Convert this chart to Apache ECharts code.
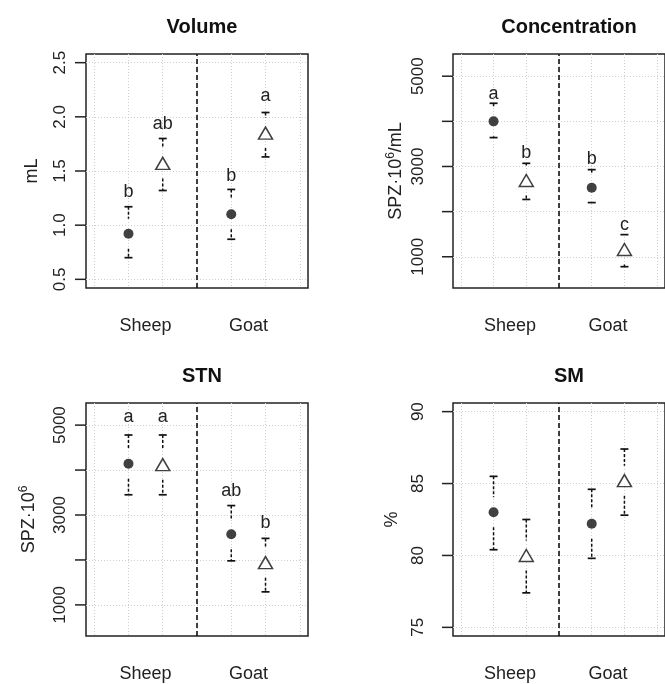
<!DOCTYPE html>
<html><head><meta charset="utf-8">
<script src="https://cdn.jsdelivr.net/npm/echarts@6/dist/echarts.min.js"></script>
<style>html,body{margin:0;padding:0;background:#fff}#c{width:665px;height:684px}</style>
</head><body><div id="c"></div>
<script>
// ---- data ----
const groups = ['Sheep', 'Goat'];
const groupPos = [1.5, 4.5];
const xPos = [1, 2, 4, 5]; // Sheep circle, Sheep triangle, Goat circle, Goat triangle
const gridLinesX = [0, 1, 2, 3, 4, 5, 6];
const separatorX = 3;

const volumeMean = [0.92, 1.57, 1.10, 1.85];
const volumeLow = [0.70, 1.32, 0.87, 1.63];
const volumeHigh = [1.17, 1.80, 1.33, 2.04];
const volumeLetters = ['b', 'ab', 'b', 'a'];
const volumeLetterY = [1.31, 1.93, 1.45, 2.19];
const volumeTicks = [0.5, 1.0, 1.5, 2.0, 2.5];
const volumeTickLabels = ['0.5', '1.0', '1.5', '2.0', '2.5'];

const concMean = [4000, 2690, 2530, 1160];
const concLow = [3640, 2270, 2200, 780];
const concHigh = [4400, 3070, 2930, 1490];
const concLetters = ['a', 'b', 'b', 'c'];
const concLetterY = [4610, 3300, 3170, 1700];
const concTicks = [1000, 2000, 3000, 4000, 5000];
const concTickLabels = ['1000', '', '3000', '', '5000'];

const stnMean = [4140, 4120, 2570, 1940];
const stnLow = [3450, 3450, 1980, 1290];
const stnHigh = [4780, 4780, 3210, 2480];
const stnLetters = ['a', 'a', 'ab', 'b'];
const stnLetterY = [5180, 5180, 3540, 2830];
const stnTicks = [1000, 2000, 3000, 4000, 5000];
const stnTickLabels = ['1000', '', '3000', '', '5000'];

const smMean = [83.0, 80.0, 82.2, 85.2];
const smLow = [80.4, 77.4, 79.8, 82.8];
const smHigh = [85.5, 82.5, 84.6, 87.4];
const smLetters = [];
const smLetterY = [];
const smTicks = [75, 80, 85, 90];
const smTickLabels = ['75', '80', '85', '90'];

// ---- layout ----
const FONT = 'Liberation Sans, Arial, sans-serif';
const TICK_LEN = 11;
const panels = [
  { title: 'Volume', name: 'mL', mean: volumeMean, low: volumeLow, high: volumeHigh,
    letters: volumeLetters, letterY: volumeLetterY, ticks: volumeTicks, tickLabels: volumeTickLabels,
    yMin: 0.42, yMax: 2.58, grid: { left: 86, top: 54, width: 222, height: 234 }, nameGap: 43, labelMargin: 17 },
  { title: 'Concentration', name: 'SPZ·10{sup|6}/mL', mean: concMean, low: concLow, high: concHigh,
    letters: concLetters, letterY: concLetterY, ticks: concTicks, tickLabels: concTickLabels,
    yMin: 308, yMax: 5492, grid: { left: 453, top: 54, width: 222, height: 234 }, nameGap: 46, labelMargin: 26 },
  { title: 'STN', name: 'SPZ·10{sup|6}', mean: stnMean, low: stnLow, high: stnHigh,
    letters: stnLetters, letterY: stnLetterY, ticks: stnTicks, tickLabels: stnTickLabels,
    yMin: 308, yMax: 5492, grid: { left: 86, top: 403, width: 222, height: 233 }, nameGap: 46, labelMargin: 17 },
  { title: 'SM', name: '%', mean: smMean, low: smLow, high: smHigh,
    letters: smLetters, letterY: smLetterY, ticks: smTicks, tickLabels: smTickLabels,
    yMin: 74.4, yMax: 90.6, grid: { left: 453, top: 403, width: 222, height: 233 }, nameGap: 50, labelMargin: 26 }
];

const option = { animation: false, backgroundColor: '#fff', title: [], grid: [], xAxis: [], yAxis: [], series: [] };
const gridLine = { show: true, lineStyle: { color: '#cfcfcf', type: [1, 2], width: 1 } };

function lookup(list, labels, v) {
  for (let k = 0; k < list.length; k++) if (Math.abs(list[k] - v) < 1e-6) return labels[k];
  return '';
}

panels.forEach((p, i) => {
  option.grid.push(Object.assign({ show: true, borderColor: '#222', borderWidth: 1.5, backgroundColor: 'transparent' }, p.grid));
  option.title.push({
    text: p.title, left: p.grid.left + p.grid.width / 2, top: p.grid.top - 42, textAlign: 'center',
    textStyle: { fontFamily: FONT, fontWeight: 'bold', fontSize: 20, color: '#111' }
  });
  option.xAxis.push({
    type: 'value', gridIndex: i, min: -0.24, max: 6.24,
    axisLine: { show: false },
    axisTick: { show: false, customValues: gridLinesX },
    splitLine: gridLine,
    axisLabel: { customValues: groupPos, formatter: v => lookup(groupPos, groups, v), margin: 29,
      fontSize: 18, color: '#222', fontFamily: FONT }
  });
  option.yAxis.push({
    type: 'value', gridIndex: i, min: p.yMin, max: p.yMax, position: 'left',
    axisLine: { show: false },
    axisTick: { show: false, customValues: p.ticks },
    splitLine: gridLine,
    axisLabel: { customValues: p.ticks, formatter: v => lookup(p.ticks, p.tickLabels, v), rotate: 90, margin: p.labelMargin,
      fontSize: 17, color: '#222', fontFamily: FONT },
    name: p.name, nameLocation: 'middle', nameRotate: 90, nameGap: p.nameGap,
    nameTextStyle: { fontSize: 18, color: '#222', fontFamily: FONT, lineHeight: 22,
      rich: { sup: { fontSize: 12, verticalAlign: 'top', lineHeight: 22, color: '#222', fontFamily: FONT } } }
  });
  // outward y ticks, placed by the y scale
  option.series.push({
    type: 'custom', xAxisIndex: i, yAxisIndex: i, z: 2, clip: false, silent: true,
    data: p.ticks.map(v => [0, v]),
    encode: { x: 0, y: 1 },
    renderItem: (params, api) => {
      const y = api.coord([0, api.value(1)])[1];
      const x0 = params.coordSys.x;
      return { type: 'line', shape: { x1: x0 - TICK_LEN, y1: y, x2: x0, y2: y },
        style: { stroke: '#222', lineWidth: 1.5 } };
    }
  });
  // error bars (gapped, dotted, with caps) + separator line
  option.series.push({
    type: 'custom', xAxisIndex: i, yAxisIndex: i, z: 3,
    data: xPos.map((x, k) => [x, p.mean[k], p.low[k], p.high[k]]),
    encode: { x: 0, y: 1 },
    renderItem: (params, api) => {
      const x = api.value(0);
      const c = api.coord([x, api.value(1)]);
      const lo = api.coord([x, api.value(2)]);
      const hi = api.coord([x, api.value(3)]);
      const gap = 15, cap = 4;
      const dashed = { stroke: '#111', lineWidth: 1.5, lineDash: [3, 2] };
      const solid = { stroke: '#111', lineWidth: 1.7 };
      const ch = [];
      if (c[1] - gap > hi[1]) ch.push({ type: 'line', shape: { x1: c[0], y1: hi[1], x2: c[0], y2: c[1] - gap }, style: dashed });
      if (c[1] + gap < lo[1]) ch.push({ type: 'line', shape: { x1: c[0], y1: c[1] + gap, x2: c[0], y2: lo[1] }, style: dashed });
      ch.push({ type: 'line', shape: { x1: c[0] - cap, y1: hi[1], x2: c[0] + cap, y2: hi[1] }, style: solid });
      ch.push({ type: 'line', shape: { x1: c[0] - cap, y1: lo[1], x2: c[0] + cap, y2: lo[1] }, style: solid });
      return { type: 'group', children: ch };
    },
    markLine: {
      silent: true, symbol: ['none', 'none'], label: { show: false },
      lineStyle: { color: '#111', type: [5, 3], width: 1.6 },
      data: [{ xAxis: separatorX }]
    }
  });
  // circles
  option.series.push({
    type: 'scatter', xAxisIndex: i, yAxisIndex: i, z: 4, symbol: 'circle', symbolSize: 10,
    itemStyle: { color: '#111' },
    data: [0, 2].map(k => [xPos[k], p.mean[k]])
  });
  // triangles
  option.series.push({
    type: 'scatter', xAxisIndex: i, yAxisIndex: i, z: 4, symbol: 'triangle', symbolSize: [14, 12],
    itemStyle: { color: '#fff', borderColor: '#111', borderWidth: 1.5 },
    data: [1, 3].map(k => [xPos[k], p.mean[k]])
  });
  // letters
  if (p.letters.length) {
    option.series.push({
      type: 'custom', xAxisIndex: i, yAxisIndex: i, z: 5,
      data: xPos.map((x, k) => [x, p.letterY[k], k]),
      encode: { x: 0, y: 1 },
      renderItem: (params, api) => {
        const pt = api.coord([api.value(0), api.value(1)]);
        return { type: 'text', x: pt[0], y: pt[1],
          style: { text: p.letters[api.value(2)], align: 'center', verticalAlign: 'middle',
            fontSize: 18, fontFamily: FONT, fill: '#222' } };
      }
    });
  }
});

const chart = echarts.init(document.getElementById('c'), null, { renderer: 'canvas' });
chart.setOption(option);
</script>
</body></html>
